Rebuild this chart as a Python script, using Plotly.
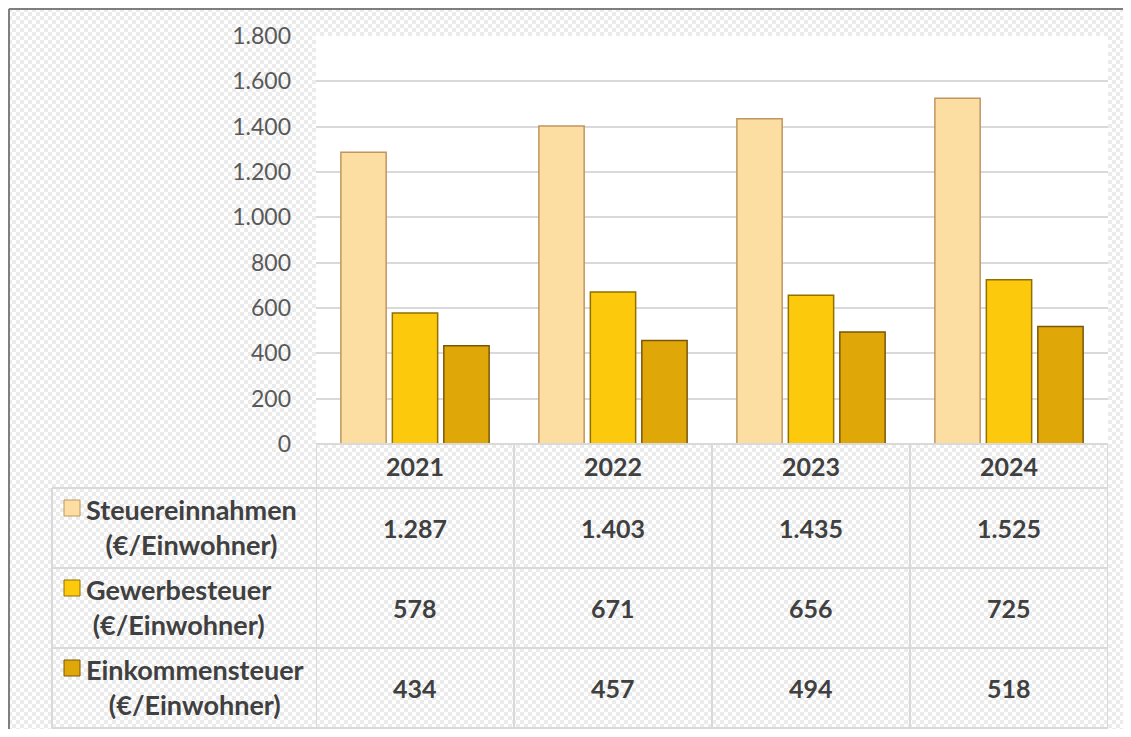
import base64
import plotly.graph_objects as go

years = ["2021", "2022", "2023", "2024"]
series_names = ["Steuereinnahmen", "Gewerbesteuer", "Einkommensteuer"]
unit_label = "(€/Einwohner)"
steuereinnahmen = [1287, 1403, 1435, 1525]
gewerbesteuer = [578, 671, 656, 725]
einkommensteuer = [434, 457, 494, 518]
y_ticks = [0, 200, 400, 600, 800, 1000, 1200, 1400, 1600, 1800]

series_values = [steuereinnahmen, gewerbesteuer, einkommensteuer]
fills = ["#FCDDA2", "#FDC90C", "#E0A708"]
edges = ["#BF9660", "#8F7000", "#7A5608"]

OFF = 8                            # page offset of the plot div
W, H = 1131 - 2 * OFF, 737 - 2 * OFF   # keep the page free of scrollbars
L, R, T, B = 316, 1108, 36, 444    # plot area in screen pixels


def px(x):
    return (x - L) / (R - L)


def py(y):
    return (B - y) / (B - T)


def de(v):
    # German thousands separator
    return f"{v:,}".replace(",", ".")


FONT = "Lato"
TXT = "#404040"

fig = go.Figure()
for name, vals, fc, ec in zip(series_names, series_values, fills, edges):
    fig.add_trace(go.Bar(
        name=name, x=years, y=vals,
        marker=dict(color=fc, line=dict(color=ec, width=1.5)),
        hoverinfo="x+y+name",
    ))

# checker background (transparent look of the original)
svg = (
    f'<svg xmlns="http://www.w3.org/2000/svg" width="{W}" height="{H}">'
    '<defs><pattern id="p" width="8" height="8" patternUnits="userSpaceOnUse">'
    '<rect width="8" height="8" fill="#ffffff"/>'
    '<rect width="4" height="4" fill="#ebebeb"/>'
    '<rect x="4" y="4" width="4" height="4" fill="#ebebeb"/>'
    '</pattern></defs>'
    f'<rect width="{W}" height="{H}" fill="url(#p)"/></svg>'
)
src = "data:image/svg+xml;base64," + base64.b64encode(svg.encode()).decode()
fig.add_layout_image(
    source=src, xref="paper", yref="paper", x=px(OFF), y=py(OFF),
    sizex=W / (R - L), sizey=H / (B - T), xanchor="left", yanchor="top",
    sizing="stretch", layer="below",
)

shapes = []
# white plot area
shapes.append(dict(type="rect", xref="paper", yref="paper", x0=0, x1=1, y0=0, y1=1,
                   fillcolor="white", line=dict(width=0), layer="below"))
# outer frame (left and top edges are the visible ones)
for x0, x1, y0, y1 in [(9, 9, 9, OFF + H), (9, OFF + W, 9, 9)]:
    shapes.append(dict(type="line", xref="paper", yref="paper",
                       x0=px(x0), x1=px(x1), y0=py(y0), y1=py(y1),
                       line=dict(color="#7F7F7F", width=2)))

grid = "#D9D9D9"
row_lines = [488, 568, 648, 728]
shapes.append(dict(type="line", xref="paper", yref="paper", x0=0, x1=1, y0=0, y1=0,
                   line=dict(color=grid, width=2)))
for yy in row_lines:
    shapes.append(dict(type="line", xref="paper", yref="paper", x0=px(52), x1=1,
                       y0=py(yy), y1=py(yy), line=dict(color=grid, width=2)))
shapes.append(dict(type="line", xref="paper", yref="paper", x0=px(52), x1=px(52),
                   y0=py(488), y1=py(728), line=dict(color=grid, width=2)))
for i in range(len(years) + 1):
    shapes.append(dict(type="line", xref="x", yref="paper", x0=i - 0.5, x1=i - 0.5,
                       y0=0, y1=py(728), line=dict(color=grid, width=2)))

annotations = []
row_centers = [527, 607, 687]
for r, (name, vals, fc, ec) in enumerate(zip(series_names, series_values, fills, edges)):
    yc = row_centers[r]
    # legend key
    shapes.append(dict(type="rect", xref="paper", yref="paper",
                       x0=px(64), x1=px(80), y0=py(yc - 11), y1=py(yc - 27),
                       fillcolor=fc, line=dict(color=ec, width=1)))
    annotations.append(dict(
        xref="paper", yref="paper", x=px(84), y=py(yc), xanchor="left", yanchor="middle",
        text=f"<b>{name}</b><br><b>{unit_label}</b>", align="center", showarrow=False,
        font=dict(family=FONT, size=27, color=TXT),
    ))
    for i, v in enumerate(vals):
        annotations.append(dict(
            xref="x", yref="paper", x=i, y=py(yc + 1), xanchor="center", yanchor="middle",
            text=f"<b>{de(v)}</b>", showarrow=False,
            font=dict(family=FONT, size=25, color=TXT),
        ))
for i, yr in enumerate(years):
    annotations.append(dict(
        xref="x", yref="paper", x=i, y=py(466), xanchor="center", yanchor="middle",
        text=f"<b>{yr}</b>", showarrow=False,
        font=dict(family=FONT, size=25, color=TXT),
    ))

fig.update_layout(
    width=W, height=H,
    margin=dict(l=L - OFF, r=OFF + W - R, t=T - OFF, b=OFF + H - B),
    paper_bgcolor="#F5F5F5", plot_bgcolor="rgba(0,0,0,0)",
    separators=",.",
    barmode="group", bargap=0.22, bargroupgap=0.12,
    showlegend=False,
    shapes=shapes, annotations=annotations,
    xaxis=dict(type="category", range=[-0.5, 3.5], showticklabels=False,
               showgrid=False, zeroline=False, showline=False),
    yaxis=dict(range=[0, 1800], tickvals=y_ticks, tickformat=",d",
               showgrid=True, gridcolor=grid, gridwidth=2, zeroline=False,
               ticklabelstandoff=24,
               tickfont=dict(family=FONT, size=23, color="#595959")),
)

fig.write_html("out.html", config={"displayModeBar": False})
